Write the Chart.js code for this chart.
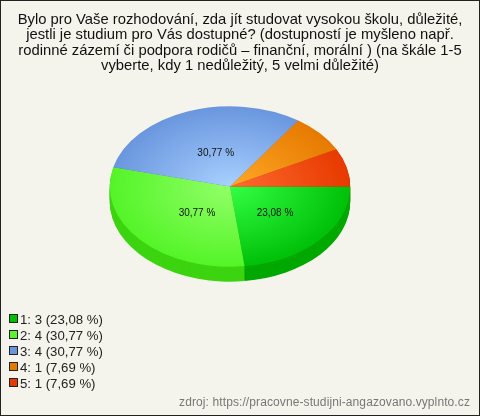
<!DOCTYPE html>
<html lang="cs">
<head>
<meta charset="utf-8">
<title>Graf</title>
<script src="https://cdn.jsdelivr.net/npm/chart.js@4"></script>
<style>
  html, body { margin:0; padding:0; background:#f5f4ec; }
  #wrap { position:relative; width:480px; height:416px; overflow:hidden; font-family:"Liberation Sans", Arial, sans-serif; }
  #pie { position:absolute; left:0; top:0; }
  #frame { position:absolute; left:0; top:0; width:478px; height:414px; border:1px solid #222; pointer-events:none; }
  #legend { position:absolute; left:9px; top:312px; margin:0; padding:0; list-style:none; font-size:13.2px; color:#222; }
  #legend li { height:16px; line-height:16px; white-space:nowrap; }
  #legend i { display:inline-block; width:7px; height:7px; border:1px solid #222; margin-right:2px; vertical-align:1px; }
  #source { position:absolute; right:10px; top:395px; font-size:12px; letter-spacing:.1px; color:#777; white-space:nowrap; }
</style>
</head>
<body>
<div id="wrap">
  <canvas id="pie" width="480" height="416"></canvas>
  <ul id="legend"></ul>
  <div id="source">zdroj: https://pracovne-studijni-angazovano.vyplnto.cz</div>
  <div id="frame"></div>
</div>
<script>
const categories = ["1", "2", "3", "4", "5"];
const counts = [3, 4, 4, 1, 1];
const percents = ["23,08", "30,77", "30,77", "7,69", "7,69"];
const legendColors = ["#00c000", "#5cf030", "#6a94dc", "#e67a00", "#e63a00"];
const innerColors = ["#33ff44", "#92ff68", "#a8d0ff", "#ffa828", "#ff6a30"];
const outerColors = ["#00c008", "#54f428", "#6a96de", "#e67a00", "#e63a00"];
const sideColors = ["#00a800", "#3cd410", "#5578b8", "#b86000", "#b82e00"];
const titleLines = [
  "Bylo pro Vaše rozhodování, zda jít studovat vysokou školu, důležité,",
  "jestli je studium pro Vás dostupné? (dostupností je myšleno např.",
  "rodinné zázemí či podpora rodičů – finanční, morální ) (na škále 1-5",
  "vyberte, kdy 1 nedůležitý, 5 velmi důležité)"
];

// Vzhled "3D" kolace
const PIE_CX = 230;
const PIE_CY = 186.5;
const SQUASH = 2 / 3;
const DEPTH = 15;
const LABEL_NUDGE = [[0, 0], [12, 0], [7, 4]];

// Legenda v HTML
document.getElementById("legend").innerHTML = categories.map((c, i) =>
  `<li><i style="background:${legendColors[i]}"></i>${c}: ${counts[i]} (${percents[i]} %)</li>`
).join("");

// Zplosti kolac a dokresli bocni stenu
const tiltPlugin = {
  id: "tilt",
  beforeDatasetsDraw(chart) {
    const { ctx } = chart;
    const arcs = chart.getDatasetMeta(0).data;
    ctx.save();
    ctx.translate(PIE_CX, PIE_CY);
    ctx.scale(1, SQUASH);
    ctx.translate(-arcs[0].x, -arcs[0].y);
    for (let d = DEPTH; d > 0; d--) {
      arcs.forEach((a, i) => {
        ctx.beginPath();
        ctx.moveTo(a.x, a.y + d / SQUASH);
        ctx.arc(a.x, a.y + d / SQUASH, a.outerRadius, a.startAngle, a.endAngle);
        ctx.closePath();
        ctx.fillStyle = sideColors[i];
        ctx.fill();
      });
    }
  },
  afterDatasetsDraw(chart) {
    const { ctx } = chart;
    ctx.restore();
    // popisky jen u vetsich vyseci
    const arcs = chart.getDatasetMeta(0).data;
    ctx.save();
    ctx.font = '10px "Liberation Sans", Arial, sans-serif';
    ctx.fillStyle = "#111";
    ctx.textAlign = "center";
    ctx.textBaseline = "middle";
    LABEL_NUDGE.forEach((n, i) => {
      const p = arcs[i].getCenterPoint();
      const x = PIE_CX + (p.x - arcs[i].x);
      const y = PIE_CY + (p.y - arcs[i].y) * SQUASH;
      ctx.fillText(percents[i] + " %", x + n[0], y + n[1]);
    });
    ctx.restore();
  }
};

function sliceFill(context) {
  const i = context.dataIndex;
  const area = context.chart.chartArea;
  if (!area) return outerColors[i];
  const x = (area.left + area.right) / 2, y = (area.top + area.bottom) / 2;
  const g = context.chart.ctx.createRadialGradient(x, y, 0, x, y, 120);
  g.addColorStop(0, innerColors[i]);
  g.addColorStop(1, outerColors[i]);
  return g;
}

new Chart(document.getElementById("pie"), {
  type: "pie",
  data: {
    labels: categories,
    datasets: [{ data: counts, backgroundColor: sliceFill, borderWidth: 0, clip: false }]
  },
  options: {
    responsive: false,
    animation: false,
    rotation: 90,
    layout: { padding: { left: 0, right: 0, top: 0, bottom: 96 } },
    plugins: {
      legend: { display: false },
      tooltip: { enabled: false },
      title: {
        display: true,
        text: titleLines,
        color: "#111",
        font: { family: '"Liberation Sans", Arial, sans-serif', size: 14.8, weight: "normal", lineHeight: 1.04 },
        padding: { top: 12, bottom: 6 }
      }
    }
  },
  plugins: [tiltPlugin]
});
</script>
</body>
</html>
